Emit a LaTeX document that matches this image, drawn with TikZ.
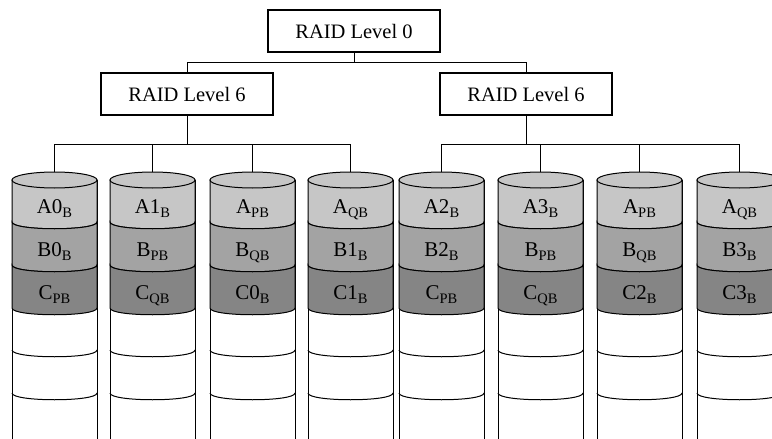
\documentclass[tikz,border=0pt]{standalone}
\usepackage{fontspec}
\setmainfont{Liberation Serif}
\definecolor{stripA}{HTML}{C6C6C6}
\definecolor{stripB}{HTML}{A3A3A3}
\definecolor{stripC}{HTML}{858585}
\newcommand\dsub[1]{\raisebox{-4.5pt}{\fontsize{14.5}{14.5}\selectfont #1}}
\begin{document}
\begin{tikzpicture}[x=1pt,y=-1pt,
  raidbox/.style={draw, line width=1.1pt, minimum width=172pt, minimum height=42pt,
    inner sep=0pt, font=\fontsize{20.5}{24}\selectfont},
  wire/.style={line width=0.9pt},
  disk/.style={draw, line width=1pt},
  blocklabel/.style={anchor=base, inner sep=0pt, font=\fontsize{21}{23}\selectfont}]
\useasboundingbox (0,0) rectangle (772,439);
\clip (0,0) rectangle (772,439);

% controller hierarchy
\node[raidbox] (r0) at (354,31) {RAID Level 0};
\node[raidbox] (r6a) at (187,94) {RAID Level 6};
\node[raidbox] (r6b) at (526,94) {RAID Level 6};
\coordinate (topbus) at (0,62);
\coordinate (busa) at (0,144);
\coordinate (busb) at (0,144);

% disks: index / left edge / three stripe labels
\foreach \i/\x/\la/\lb/\lc in {
  1/12/{A0\dsub{B}}/{B0\dsub{B}}/{C\dsub{PB}},
  2/110/{A1\dsub{B}}/{B\dsub{PB}}/{C\dsub{QB}},
  3/210/{A\dsub{PB}}/{B\dsub{QB}}/{C0\dsub{B}},
  4/308/{A\dsub{QB}}/{B1\dsub{B}}/{C1\dsub{B}},
  5/399/{A2\dsub{B}}/{B2\dsub{B}}/{C\dsub{PB}},
  6/498/{A3\dsub{B}}/{B\dsub{PB}}/{C\dsub{QB}},
  7/597/{A\dsub{PB}}/{B\dsub{QB}}/{C2\dsub{B}},
  8/697/{A\dsub{QB}}/{B3\dsub{B}}/{C3\dsub{B}}} {
  \pgfmathsetmacro\xr{\x+85}
  \pgfmathsetmacro\xc{\x+42.5}
  % body
  \filldraw[disk, fill=white] (\x,180) -- (\x,450) -- (\xr,450) -- (\xr,180);
  % striped blocks
  \filldraw[disk, fill=stripA] (\x,180) -- (\x,222) .. controls (\x,231) and (\xr,231) .. (\xr,222) -- (\xr,180) -- cycle;
  \filldraw[disk, fill=stripB] (\x,222) .. controls (\x,231) and (\xr,231) .. (\xr,222)
     -- (\xr,265) .. controls (\xr,274) and (\x,274) .. (\x,265) -- cycle;
  \filldraw[disk, fill=stripC] (\x,265) .. controls (\x,274) and (\xr,274) .. (\xr,265)
     -- (\xr,308) .. controls (\xr,317) and (\x,317) .. (\x,308) -- cycle;
  % empty blocks
  \draw[disk] (\x,350) .. controls (\x,359) and (\xr,359) .. (\xr,350);
  \draw[disk] (\x,393) .. controls (\x,402) and (\xr,402) .. (\xr,393);
  % lid
  \filldraw[disk, fill=stripA] (\xc,180) ellipse [x radius=42.5, y radius=8];
  \coordinate (d\i) at (\xc,172);
  \node[blocklabel] (a\i) at (\xc,213) {\la};
  \node[blocklabel] (b\i) at (\xc,256) {\lb};
  \node[blocklabel] (c\i) at (\xc,299) {\lc};
}

% wiring
\draw[wire] (r0.south) -- (r0.south |- topbus);
\draw[wire] (r6a.north) -- (r6a.north |- topbus) -- (r6b.north |- topbus) -- (r6b.north);
\draw[wire] (r6a.south) -- (r6a.south |- busa);
\draw[wire] (r6b.south) -- (r6b.south |- busb);
\draw[wire] (d1) -- (d1 |- busa) -- (d4 |- busa) -- (d4);
\draw[wire] (d2) -- (d2 |- busa);
\draw[wire] (d3) -- (d3 |- busa);
\draw[wire] (d5) -- (d5 |- busb) -- (d8 |- busb) -- (d8);
\draw[wire] (d6) -- (d6 |- busb);
\draw[wire] (d7) -- (d7 |- busb);
\end{tikzpicture}
\end{document}
